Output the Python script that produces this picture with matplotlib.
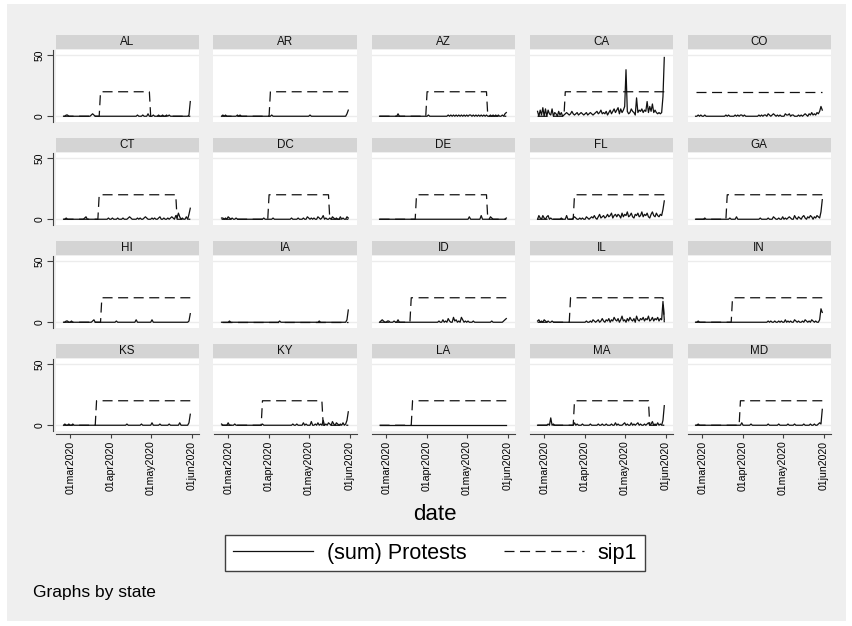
import numpy as np
import pandas as pd
import matplotlib
matplotlib.use("Agg")
import matplotlib.pyplot as plt
import matplotlib.dates as mdates
from matplotlib.patches import Rectangle

plt.rcParams['font.family'] = ['Liberation Sans', 'DejaVu Sans']
plt.rcParams['lines.scale_dashes'] = False

# daily data, 25feb2020 .. 31may2020
dates = pd.date_range('2020-02-25', '2020-05-31', freq='D')

states = ['AL', 'AR', 'AZ', 'CA', 'CO',
          'CT', 'DC', 'DE', 'FL', 'GA',
          'HI', 'IA', 'ID', 'IL', 'IN',
          'KS', 'KY', 'LA', 'MA', 'MD']

# (sum) Protests
AL = [0,0,1,1,0,0,0,0,0,0, 0,0,0,0,0,0,0,0,0,0, 0,1,2,1,0,0,0,0,0,0, 0,0,0,0,0,0,0,0,0,0, 0,0,0,0,0,0,0,0,0,0, 0,0,0,0,0,0,1,0,0,0, 1,0,0,0,2,0,0,0,1,0, 0,0,1,0,0,1,0,0,1,0, 1,0,0,0,0,0,0,0,0,0, 0,0,0,0,0,1,12]
AR = [0,1,0,1,0,0,0,0,0,0, 0,0,1,0,1,0,0,0,0,0, 0,0,0,0,0,0,0,0,0,0, 0,0,0,0,0,0,0,0,1,0, 0,0,0,0,0,0,0,0,0,0, 0,0,0,0,0,0,0,0,0,0, 0,0,0,0,0,0,0,1,0,0, 0,0,0,0,0,0,0,0,0,0, 0,0,0,0,0,0,0,0,0,0, 0,0,0,0,0,2,5]
AZ = [0,0,0,0,0,0,0,0,0,0, 0,0,0,0,2,0,0,0,0,0, 0,0,0,0,0,0,0,0,0,0, 0,0,0,0,0,0,0,1,0,0, 0,0,0,0,0,0,0,0,0,0, 0,0,1,0,1,0,1,0,1,0, 1,0,1,0,1,0,1,0,1,1, 0,1,0,1,0,1,0,1,0,1, 0,1,0,0,1,0,1,0,1,0, 1,0,0,1,0,2,3]
CA = [4,0,5,1,7,0,6,0,5,2, 1,6,0,3,2,0,4,1,3,0, 1,2,3,2,1,2,4,2,1,2, 3,1,2,3,2,1,2,3,1,2, 3,2,1,2,3,4,2,3,5,2, 3,2,4,1,3,5,2,4,6,3, 5,7,2,6,3,5,8,38,4,2, 3,6,4,3,1,15,3,5,4,6, 3,5,4,12,3,8,4,10,3,5, 3,2,3,2,3,16,48]
CO = [0,0,1,0,1,0,0,1,0,0, 0,0,0,0,0,0,0,0,0,0, 0,0,0,1,0,1,0,0,0,0, 1,0,1,0,1,1,0,1,0,0, 0,0,0,0,0,0,0,0,1,0, 1,0,1,1,0,2,1,0,1,2, 1,0,1,0,1,0,0,0,2,1, 1,2,0,1,1,0,0,0,1,0, 1,0,1,2,1,0,2,1,3,1, 2,1,3,2,4,8,5]
CT = [0,0,1,0,0,0,0,0,0,0, 0,0,0,0,0,0,1,2,0,0, 0,0,0,0,0,0,0,0,0,0, 0,0,0,0,1,0,0,1,0,0, 0,1,0,0,0,1,0,0,0,1, 2,1,0,0,0,0,1,0,1,0, 0,1,2,1,0,0,0,1,0,1, 0,0,1,2,0,0,1,0,0,1, 0,1,2,1,0,3,1,5,2,0, 1,0,0,2,0,4,9]
DC = [1,1,0,1,0,2,1,0,1,0, 0,1,0,0,0,0,0,0,0,0, 0,0,0,0,0,0,0,0,0,0, 0,0,1,0,0,0,0,0,0,1, 0,0,0,0,0,0,0,0,0,0, 0,0,0,1,0,0,0,0,1,0, 0,0,1,0,0,2,1,0,1,0, 1,0,0,2,1,0,1,3,0,1, 0,0,1,0,2,1,0,1,0,0, 2,0,1,0,0,2,1]
DE = [0,0,0,0,0,0,0,0,0,0, 0,0,0,0,0,0,0,0,0,0, 0,0,0,0,0,0,0,0,0,0, 0,0,0,0,0,0,0,0,0,0, 0,0,0,0,0,0,0,0,0,0, 0,0,0,0,0,0,0,0,0,0, 0,0,0,0,0,0,0,0,2,0, 0,0,0,0,0,0,0,3,0,0, 0,0,0,0,2,1,0,0,0,0, 0,0,0,0,0,0,1]
FL = [0,3,1,0,3,1,0,2,3,0, 1,0,0,0,0,0,0,0,1,0, 0,0,3,0,0,0,0,1,2,1, 0,0,1,0,1,0,0,2,1,0, 1,2,1,3,1,0,2,4,1,2, 3,1,2,4,2,3,5,1,3,4, 2,4,3,1,5,2,4,3,6,2, 3,5,2,1,4,3,5,2,3,6, 2,4,3,5,2,1,4,6,3,2, 5,3,2,4,3,8,15]
GA = [0,0,0,0,0,0,0,1,0,0, 0,0,0,0,0,0,0,0,0,0, 0,0,0,0,0,0,1,0,0,0, 0,2,0,0,0,0,0,0,0,0, 0,0,0,0,0,0,0,0,0,1, 0,0,0,0,0,1,0,0,0,2, 1,0,0,1,0,0,2,0,1,0, 1,2,1,0,0,3,1,0,2,1, 0,2,3,1,0,2,1,3,2,0, 2,1,3,2,1,6,16]
HI = [0,0,1,1,0,0,1,0,0,0, 0,0,0,0,0,0,0,0,0,0, 0,0,1,2,0,0,0,0,0,0, 0,0,0,0,0,0,0,0,0,0, 1,0,0,0,0,0,0,0,0,0, 0,0,0,0,0,2,0,0,0,0, 0,0,0,0,0,0,0,2,0,0, 0,0,0,0,0,0,0,0,0,0, 0,0,0,0,0,0,0,0,0,0, 0,0,0,0,0,1,7]
IA = [0,0,0,0,0,0,1,0,0,0, 0,0,0,0,0,0,0,0,0,0, 0,0,0,0,0,0,0,0,0,0, 0,0,0,0,0,0,0,0,0,0, 0,0,0,0,1,0,0,0,0,0, 0,0,0,0,0,0,0,0,0,0, 0,0,0,0,0,0,0,0,0,0, 0,0,0,0,1,0,0,0,0,0, 0,0,0,0,0,0,0,0,0,0, 0,0,0,0,0,2,10]
ID = [0,1,2,1,0,0,1,1,0,0, 0,1,0,0,2,0,0,0,0,0, 0,0,0,0,0,0,0,0,0,0, 0,0,0,0,0,0,0,0,0,0, 0,0,0,0,0,1,0,0,2,0, 1,0,3,1,0,0,4,1,2,0, 1,0,4,2,0,1,0,1,0,0, 0,1,0,0,0,0,0,0,0,0, 0,0,0,0,0,1,0,0,0,0, 0,0,0,0,1,2,3]
IL = [1,2,0,1,0,2,1,0,1,0, 0,1,0,0,0,0,0,0,0,0, 0,0,0,0,0,0,0,0,0,0, 0,0,0,0,0,0,0,1,0,0, 1,0,2,1,0,1,2,0,1,3, 1,0,2,1,3,0,2,1,4,2, 1,3,0,2,5,1,2,0,3,1, 4,2,1,3,0,5,2,1,3,2, 4,1,3,2,5,1,2,4,1,3, 2,4,1,3,2,17,2]
IN = [0,0,1,0,0,0,0,0,0,0, 0,0,0,0,0,0,0,0,0,0, 0,0,0,0,0,0,0,0,0,0, 0,0,0,0,0,0,0,0,0,0, 0,0,0,0,0,0,0,0,0,0, 0,0,0,0,0,1,0,1,0,0, 1,0,0,1,0,1,0,0,2,0, 1,0,1,0,0,2,1,0,1,0, 0,1,0,2,1,0,1,0,2,1, 0,1,0,0,2,11,8]
KS = [0,1,0,0,1,0,0,1,0,0, 0,0,0,0,0,0,0,0,0,0, 0,0,0,0,0,0,0,0,0,0, 0,0,0,0,0,0,0,0,0,0, 0,0,0,0,0,0,0,0,1,0, 0,0,0,0,0,0,0,0,0,1, 0,0,0,0,0,0,0,2,0,0, 0,0,0,1,0,0,0,0,0,0, 1,0,0,0,0,0,0,0,2,0, 0,0,0,0,0,2,9]
KY = [1,0,0,0,0,2,0,0,0,0, 1,0,0,0,0,0,0,0,0,0, 0,0,0,0,0,0,0,0,0,0, 0,1,0,0,0,0,0,0,0,0, 0,0,0,0,0,0,0,0,0,0, 0,0,0,0,1,0,0,1,0,0, 0,0,2,0,1,0,0,0,3,0, 0,1,0,2,0,1,0,4,0,1, 0,2,1,0,3,1,0,2,1,0, 1,0,2,0,1,4,11]
LA = [0,0,0,0,0,0,0,0,0,0, 0,0,0,0,0,0,0,0,0,0, 0,0,0,0,0,0,0,0,0,0, 0,0,0,0,0,0,0,0,0,0, 0,0,0,0,0,0,0,0,0,0, 0,0,0,0,0,0,0,0,0,0, 0,0,0,0,0,0,0,0,0,0, 0,0,0,0,0,0,0,0,0,0, 0,0,0,0,0,0,0,0,0,0, 0,0,0,0,0,0,0]
MA = [0,0,0,0,0,0,0,0,1,0, 6,0,1,0,0,0,0,0,0,0, 0,0,0,0,0,0,0,0,2,0, 1,0,0,0,1,0,0,0,0,0, 1,0,0,0,0,0,1,0,0,1, 0,0,1,0,0,0,1,0,0,2, 0,1,0,0,0,1,2,0,1,0, 0,2,0,1,0,1,2,0,1,0, 0,1,0,1,2,0,1,3,0,1, 0,2,0,1,0,4,16]
MD = [0,0,1,0,0,0,0,0,0,0, 0,0,0,0,0,0,0,0,0,0, 0,0,0,0,0,0,0,0,0,0, 0,0,0,0,0,2,0,0,0,0, 0,0,1,0,0,0,0,0,0,0, 0,0,0,0,0,1,0,0,0,0, 0,0,0,1,0,0,0,0,0,0, 1,0,0,0,0,1,0,0,0,0, 0,0,1,0,0,0,0,1,0,0, 1,0,0,1,2,1,13]

protests = dict(zip(states, [AL, AR, AZ, CA, CO, CT, DC, DE, FL, GA,
                             HI, IA, ID, IL, IN, KS, KY, LA, MA, MD]))

# sip1: 20 while the order is on, else 0 (first day on / first day off)
sip_start = ['2020-03-24', '2020-04-02', '2020-04-01', '2020-03-17', '2020-02-25',
             '2020-03-23', '2020-04-01', '2020-03-24', '2020-03-24', '2020-03-20',
             '2020-03-25', None, '2020-03-20', '2020-03-21', '2020-03-24',
             '2020-03-21', '2020-03-27', '2020-03-21', '2020-03-24', '2020-03-30']
sip_end = ['2020-05-01', None, '2020-05-17', None, None,
           '2020-05-21', '2020-05-17', '2020-05-17', None, None,
           None, None, None, '2020-05-31', None,
           None, '2020-05-12', None, '2020-05-20', None]
SIP_LEVEL = 20

W, H = 852, 626
fig = plt.figure(figsize=(W / 100, H / 100), dpi=100)
fig.patch.set_facecolor('white')
fig.add_artist(Rectangle((7 / W, 1 - 621 / H), 839 / W, 617 / H,
                         transform=fig.transFigure, facecolor='#efefef',
                         edgecolor='none', zorder=-10))


def px_axes(left, top, width, height):
    return fig.add_axes([left / W, 1 - (top + height) / H, width / W, height / H])


x0 = mdates.date2num(pd.Timestamp('2020-03-01')) - 11.1
x1 = mdates.date2num(pd.Timestamp('2020-06-01')) + 5.6
xt = pd.to_datetime(['2020-03-01', '2020-04-01', '2020-05-01', '2020-06-01'])
xtl = ['01mar2020', '01apr2020', '01may2020', '01jun2020']

PW, PH = 143.5, 72
ink = '#111111'
handles = None
for i, st in enumerate(states):
    r, c = divmod(i, 5)
    ax = px_axes(55.5 + 158 * c, 50 + 103 * r, PW, PH)
    ax.set_facecolor('white')

    sip = np.zeros(len(dates))
    if sip_start[i] is not None:
        on = dates >= pd.Timestamp(sip_start[i])
        if sip_end[i] is not None:
            on &= dates < pd.Timestamp(sip_end[i])
        sip[on] = SIP_LEVEL

    l1, = ax.plot(dates, protests[st], color=ink, lw=0.9)
    l2, = ax.plot(dates, sip, color=ink, lw=0.9, linestyle=(0, (7.2, 4.0)))
    if handles is None:
        handles = [l1, l2]

    ax.set_xlim(x0, x1)
    ax.set_ylim(-4.7, 54.1)
    ax.set_yticks([0, 50])
    ax.grid(axis='y', color='#ececec', lw=1.0)
    ax.set_axisbelow(True)

    for s in ['top', 'right']:
        ax.spines[s].set_visible(False)
    ax.spines['left'].set_visible(c == 0)
    ax.spines['bottom'].set_visible(r == 3)
    for s in ['left', 'bottom']:
        ax.spines[s].set_position(('outward', 2))
        ax.spines[s].set_color('#404040')
        ax.spines[s].set_linewidth(0.8)

    if r == 3:
        ax.set_xticks(xt, labels=xtl, rotation=90)
        ax.tick_params(axis='x', length=3, width=0.8, pad=2, labelsize=7.6,
                       color='#404040')
    else:
        ax.set_xticks(xt)
        ax.tick_params(axis='x', bottom=False, labelbottom=False)
    if c == 0:
        ax.set_yticks([0, 50], labels=['0', '50'], rotation=90, va='center')
        ax.tick_params(axis='y', length=4, width=0.8, pad=2, labelsize=7.4,
                       color='#404040')
    else:
        ax.tick_params(axis='y', left=False, labelleft=False)

    # title strip
    ax.add_patch(Rectangle((0, 1 + 1 / PH), 1, 14.3 / PH, transform=ax.transAxes,
                           facecolor='#d4d4d4', edgecolor='none', clip_on=False))
    ax.text(0.5, 1 + (1 + 7.15) / PH, st, transform=ax.transAxes,
            ha='center', va='center', fontsize=8.4, color='#111111')

fig.text(435 / W, 1 - 515 / H, 'date', ha='center', va='center', fontsize=16)

leg = fig.legend(handles, ['(sum) Protests', 'sip1'], loc='center',
                 bbox_to_anchor=(435 / W, 1 - 553.3 / H), ncol=2, fontsize=15.5,
                 frameon=True, fancybox=False, edgecolor='#404040',
                 facecolor='white', framealpha=1, borderpad=0.35,
                 handlelength=3.72, handletextpad=0.65, columnspacing=1.72)
leg.get_frame().set_linewidth(1.0)

fig.text(33 / W, 1 - 593 / H, 'Graphs by state', ha='left', va='center',
         fontsize=12.5)

fig.savefig('out.png', dpi=100)
